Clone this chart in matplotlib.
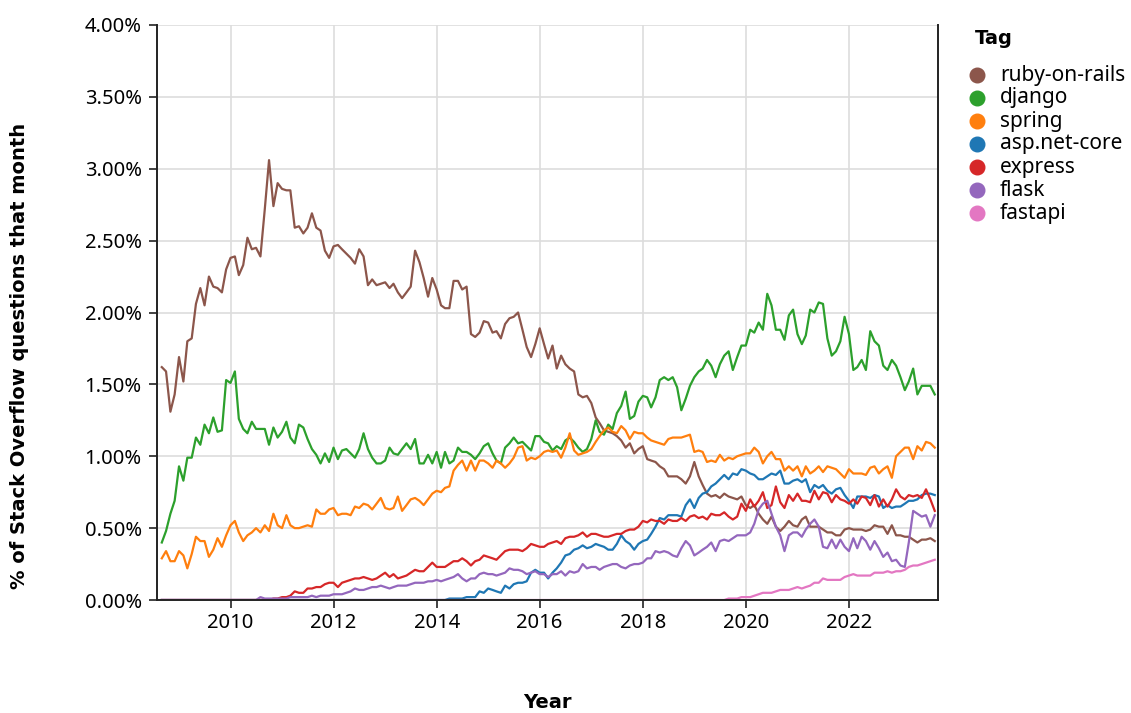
import numpy as np
import pandas as pd
import matplotlib
matplotlib.use("Agg")
import matplotlib.pyplot as plt
import matplotlib.dates as mdates
from matplotlib.lines import Line2D
from matplotlib.ticker import FuncFormatter

plt.rcParams['font.family'] = ['Noto Sans', 'DejaVu Sans']

# monthly share of Stack Overflow questions (%)
START = "2008-09-01"

ruby_on_rails = [
    1.62, 1.59, 1.31, 1.43, 1.69, 1.52, 1.80, 1.82, 2.06, 2.17, 2.05, 2.25, 2.18, 2.17, 2.14, 2.30,
    2.38, 2.39, 2.26, 2.33, 2.52, 2.44, 2.45, 2.39,
    2.72, 3.06, 2.74, 2.90, 2.86, 2.85, 2.85, 2.59, 2.60, 2.55, 2.59, 2.69, 2.59, 2.57, 2.43, 2.38,
    2.46, 2.47, 2.44, 2.41, 2.38, 2.34,
    2.44, 2.39, 2.19, 2.23, 2.19, 2.20, 2.21, 2.17, 2.20, 2.14, 2.10, 2.14, 2.18, 2.43, 2.35, 2.24, 2.11, 2.24,
    2.16, 2.05, 2.03, 2.03, 2.22, 2.22, 2.16, 2.18, 1.85, 1.83, 1.86, 1.94, 1.93, 1.86, 1.87, 1.82,
    1.92, 1.96, 1.97, 2.00, 1.88, 1.76, 1.69, 1.78,
    1.89, 1.78, 1.68, 1.77, 1.61, 1.70, 1.64, 1.61, 1.59, 1.43, 1.41, 1.42, 1.37, 1.27, 1.23, 1.18,
    1.17, 1.16, 1.14, 1.11, 1.06, 1.09, 1.02, 1.05,
    1.07, 0.98, 0.97, 0.96,
    0.93, 0.91, 0.86, 0.86, 0.86, 0.84, 0.81, 0.86, 0.96, 0.86, 0.80, 0.74, 0.72, 0.73, 0.71,
    0.74, 0.72, 0.71, 0.70, 0.72, 0.66, 0.64, 0.66, 0.60, 0.56, 0.53, 0.58, 0.51, 0.48, 0.51,
    0.55, 0.52, 0.51, 0.56, 0.58, 0.51, 0.51, 0.51, 0.49, 0.47, 0.47, 0.45, 0.45, 0.49, 0.50,
    0.49, 0.49, 0.49, 0.48, 0.49, 0.52, 0.51, 0.51, 0.46, 0.52, 0.45, 0.45, 0.44, 0.44, 0.42,
    0.40, 0.42, 0.42, 0.43, 0.41,
]

django = [
    0.40, 0.48, 0.60, 0.69, 0.93, 0.83, 0.99, 0.99, 1.13, 1.08, 1.22, 1.16, 1.27, 1.17, 1.18, 1.53,
    1.51, 1.59, 1.26, 1.19, 1.16, 1.24, 1.19, 1.19, 1.19, 1.08, 1.20, 1.13, 1.17, 1.24, 1.13, 1.09,
    1.22, 1.20, 1.12, 1.05, 1.01, 0.95, 1.02, 0.96,
    1.06, 0.98, 1.04, 1.05, 1.02, 0.99, 1.05, 1.16, 1.05, 0.99, 0.95, 0.95, 0.97, 1.06, 1.02, 1.01,
    1.05, 1.09, 1.05, 1.12, 0.95, 0.95, 1.01, 0.95,
    1.03, 0.92, 1.03, 0.95, 0.97, 1.06, 1.03, 1.03, 1.01, 0.98, 1.02, 1.07, 1.09, 1.02, 0.97, 0.95,
    1.06, 1.09, 1.13, 1.09, 1.10, 1.07, 1.04, 1.14,
    1.14, 1.10, 1.09, 1.04, 1.07, 1.05, 1.11, 1.13, 1.10, 1.06, 1.03, 1.05, 1.12, 1.25, 1.17, 1.15,
    1.22, 1.19, 1.30, 1.35, 1.45, 1.26, 1.28, 1.38,
    1.42, 1.41, 1.34, 1.41, 1.53, 1.55, 1.53, 1.55, 1.48, 1.32, 1.40, 1.49, 1.55, 1.59, 1.61, 1.67,
    1.63, 1.55, 1.64, 1.70, 1.73, 1.60, 1.69, 1.77,
    1.77, 1.88, 1.86, 1.93, 1.88, 2.13, 2.05, 1.88, 1.88, 1.81, 1.98, 2.02, 1.85, 1.78, 1.84,
    2.02, 2.00, 2.07, 2.06, 1.82, 1.70, 1.73, 1.80, 1.97, 1.85, 1.60, 1.62, 1.67, 1.60, 1.87,
    1.80, 1.77, 1.63, 1.60, 1.67, 1.63, 1.55, 1.46, 1.52, 1.61, 1.43, 1.49, 1.49, 1.49, 1.43,
]

spring = [
    0.29, 0.34, 0.27, 0.27, 0.34, 0.31, 0.22, 0.32, 0.44, 0.41, 0.41, 0.30, 0.35, 0.43, 0.37, 0.45,
    0.52, 0.55, 0.47, 0.41, 0.45, 0.47, 0.50, 0.47, 0.52, 0.48, 0.60, 0.52, 0.50, 0.59, 0.52, 0.50,
    0.50, 0.51, 0.52, 0.51, 0.63, 0.60, 0.60, 0.63,
    0.64, 0.59, 0.60, 0.60, 0.59, 0.65, 0.64, 0.67, 0.66, 0.63, 0.67, 0.71, 0.64, 0.63, 0.64, 0.72,
    0.62, 0.66, 0.70, 0.71, 0.69, 0.66, 0.70, 0.74,
    0.76, 0.75, 0.78, 0.79, 0.90, 0.94, 0.97, 0.90, 0.97, 0.90, 0.97, 0.97, 0.95, 0.92, 0.97, 0.95,
    0.92, 0.95, 0.99, 1.06, 1.07, 0.97, 0.99, 0.98,
    1.00, 1.03, 1.04, 1.03, 1.04, 0.99, 1.06, 1.16, 1.04, 1.01, 1.02, 1.03, 1.05, 1.10, 1.14, 1.18,
    1.20, 1.17, 1.16, 1.21, 1.18, 1.12, 1.17, 1.16,
    1.16, 1.13, 1.11, 1.10, 1.09, 1.08, 1.12, 1.13, 1.13, 1.13, 1.14, 1.15, 1.03, 1.04, 1.03, 0.96,
    0.97, 0.96, 1.01, 0.97, 0.99, 0.98, 1.00, 1.01,
    1.02, 1.02, 1.06, 1.03, 0.95, 1.00, 1.03, 0.98, 0.98, 0.90, 0.93, 0.90, 0.93, 0.86, 0.93,
    0.88, 0.90, 0.93, 0.89, 0.93, 0.92, 0.91, 0.88, 0.85, 0.91, 0.88, 0.88, 0.88, 0.87, 0.92,
    0.93, 0.88, 0.91, 0.93, 0.85, 1.00, 1.03, 1.06, 1.06, 0.98, 1.07, 1.04, 1.10, 1.09, 1.06,
]

# the younger tags sit at 0 until their first visible month
asp_net_core_start = "2014-04-01"
asp_net_core = [
    0.01, 0.01, 0.01, 0.01, 0.02, 0.02, 0.02, 0.06, 0.05, 0.08, 0.07, 0.06, 0.05, 0.10, 0.08, 0.11,
    0.12, 0.12, 0.13, 0.19, 0.21, 0.19, 0.19, 0.15,
    0.19, 0.22, 0.26, 0.31, 0.32, 0.35, 0.36, 0.38, 0.36, 0.37, 0.39, 0.38, 0.37, 0.35, 0.35, 0.39,
    0.45, 0.41, 0.39, 0.35, 0.39, 0.41, 0.42, 0.46, 0.51,
    0.57, 0.56, 0.59, 0.59, 0.59, 0.58, 0.66, 0.70, 0.64, 0.71, 0.74, 0.75, 0.79, 0.81, 0.84,
    0.87, 0.84, 0.88, 0.87, 0.91, 0.90, 0.88, 0.87, 0.84, 0.84, 0.86, 0.88, 0.87, 0.90, 0.81,
    0.81, 0.83, 0.84, 0.82, 0.84, 0.75, 0.80, 0.78, 0.80, 0.76, 0.74, 0.77, 0.78, 0.73, 0.69,
    0.64, 0.72, 0.72, 0.72, 0.71, 0.73, 0.72, 0.64, 0.66, 0.64, 0.65, 0.65, 0.67, 0.69, 0.69,
    0.70, 0.73, 0.74, 0.74, 0.73,
]

express_start = "2010-11-01"
express = [
    0.01, 0.01, 0.02, 0.02, 0.03, 0.06, 0.05, 0.05, 0.08, 0.08, 0.09, 0.09, 0.11, 0.12,
    0.12, 0.09, 0.12, 0.13, 0.14, 0.15, 0.15, 0.16, 0.15, 0.14, 0.15, 0.17, 0.19, 0.16, 0.18,
    0.15, 0.16, 0.17, 0.19, 0.21, 0.20, 0.20, 0.23, 0.26, 0.23, 0.23, 0.23, 0.25, 0.27, 0.27,
    0.29, 0.27, 0.24, 0.27, 0.28, 0.31, 0.30, 0.29, 0.28, 0.31, 0.34, 0.35, 0.35, 0.35, 0.34,
    0.36, 0.39, 0.38, 0.37,
    0.37, 0.39, 0.40, 0.41, 0.39, 0.43, 0.44, 0.44, 0.45, 0.47, 0.44, 0.46, 0.46, 0.45, 0.44,
    0.44, 0.45, 0.46, 0.46, 0.48, 0.49, 0.49, 0.51, 0.55, 0.54, 0.56, 0.55,
    0.55, 0.53, 0.56, 0.55, 0.55, 0.57, 0.55, 0.58, 0.59, 0.57, 0.58, 0.56, 0.60, 0.59, 0.59,
    0.61, 0.58, 0.56, 0.58, 0.67, 0.62, 0.70, 0.65, 0.69, 0.75, 0.64, 0.66, 0.79, 0.68, 0.64,
    0.73, 0.69, 0.74, 0.69, 0.69, 0.68, 0.76, 0.70, 0.75, 0.74, 0.68, 0.73, 0.70, 0.69, 0.67,
    0.70, 0.67, 0.72, 0.71, 0.66, 0.73, 0.65, 0.70, 0.65, 0.70, 0.77, 0.72, 0.70, 0.73, 0.72,
    0.73, 0.71, 0.77, 0.70, 0.62,
]

flask_start = "2010-08-01"
flask = [
    0.02, 0.01, 0.01, 0.01, 0.01, 0.01, 0.01, 0.02, 0.02, 0.02, 0.02, 0.02, 0.03, 0.02, 0.03,
    0.03, 0.03, 0.04, 0.04, 0.04, 0.05, 0.06, 0.08, 0.07, 0.07, 0.08, 0.09, 0.09, 0.10, 0.09,
    0.08, 0.09, 0.10, 0.10, 0.10, 0.11, 0.12,
    0.12, 0.12, 0.13, 0.13, 0.14, 0.13, 0.14, 0.15, 0.16, 0.18, 0.15, 0.13, 0.15, 0.15, 0.18,
    0.19, 0.18, 0.18, 0.17, 0.18, 0.19, 0.22, 0.21, 0.21, 0.20, 0.18, 0.19, 0.20, 0.18, 0.18,
    0.16, 0.18, 0.18, 0.20, 0.17, 0.20, 0.19, 0.20, 0.25, 0.22, 0.23, 0.23, 0.21, 0.23, 0.24,
    0.25, 0.25, 0.23, 0.22, 0.24, 0.25, 0.25, 0.26, 0.29, 0.29, 0.34,
    0.33, 0.34, 0.33, 0.31, 0.30, 0.36, 0.41, 0.38, 0.31, 0.33, 0.35, 0.37, 0.40, 0.34, 0.41,
    0.42, 0.41, 0.43, 0.45, 0.45, 0.45, 0.47, 0.53, 0.63, 0.67, 0.69, 0.60, 0.51, 0.45, 0.34,
    0.45, 0.47, 0.47, 0.44, 0.49, 0.53, 0.56, 0.51, 0.37, 0.36, 0.42, 0.36, 0.42, 0.37, 0.34,
    0.43, 0.36, 0.44, 0.41, 0.35, 0.41, 0.36, 0.30, 0.33, 0.27, 0.28, 0.24, 0.23, 0.40, 0.62,
    0.60, 0.58, 0.59, 0.51, 0.59,
]

fastapi_start = "2019-09-01"
fastapi = [
    0.01, 0.01, 0.01, 0.02, 0.02, 0.02, 0.03, 0.04, 0.05, 0.05, 0.05, 0.06, 0.07, 0.07, 0.07,
    0.08, 0.09, 0.08, 0.09, 0.10, 0.12, 0.12, 0.15, 0.14, 0.14, 0.14, 0.14, 0.16, 0.17, 0.18,
    0.17, 0.17, 0.17, 0.17, 0.19, 0.19, 0.19, 0.20, 0.19, 0.20, 0.20, 0.21, 0.23, 0.24, 0.24,
    0.25, 0.26, 0.27, 0.28,
]

tags = ["ruby-on-rails", "django", "spring", "asp.net-core", "express", "flask", "fastapi"]
colors = ["#8c564b", "#2ca02c", "#ff7f0e", "#1f77b4", "#d62728", "#9467bd", "#e377c2"]


def full_series(values, start=START):
    # zero-filled months before the tag shows up
    lead = len(pd.date_range(START, start, freq="MS")) - 1
    vals = [0.0] * lead + list(values)
    dates = pd.date_range(START, periods=len(vals), freq="MS")
    return dates, vals


series = [
    full_series(ruby_on_rails),
    full_series(django),
    full_series(spring),
    full_series(asp_net_core, asp_net_core_start),
    full_series(express, express_start),
    full_series(flask, flask_start),
    full_series(fastapi, fastapi_start),
]

W, H = 1131, 713
fig = plt.figure(figsize=(W / 100, H / 100), dpi=100)
ax = fig.add_axes([157 / W, 1 - 600 / H, 781 / W, 575 / H])

for (dates, vals), tag, c in zip(series, tags, colors):
    ax.plot(dates, vals, color=c, lw=1.6, label=tag)

ax.set_ylim(0, 4)
ax.set_yticks(np.arange(0, 4.01, 0.5))
ax.yaxis.set_major_formatter(FuncFormatter(lambda v, p: f"{v:.2f}%"))
ax.set_xlim(pd.Timestamp("2008-07-29"), pd.Timestamp("2023-09-24"))
ax.set_xticks([pd.Timestamp(f"{y}-01-01") for y in range(2010, 2023, 2)])
ax.xaxis.set_major_formatter(mdates.DateFormatter("%Y"))

ax.grid(True, color="#dddddd", lw=1.2)
ax.set_axisbelow(True)
for side in ["left", "bottom", "right"]:
    ax.spines[side].set_color("#222222")
    ax.spines[side].set_linewidth(1.4)
ax.spines["top"].set_visible(False)
ax.tick_params(axis="both", length=6, width=1.2, color="#222222", labelsize=14.5)
ax.tick_params(axis="y", pad=5)
ax.tick_params(axis="x", pad=3)

# axis titles
bold = dict(family="DejaVu Sans", fontweight="bold", fontsize=14)
fig.text(547 / W, 1 - 703 / H, "Year", ha="center", va="center", **bold)
fig.text(20 / W, 1 - 356 / H, "% of Stack Overflow questions that month",
         rotation=90, ha="center", va="center", **bold)

# legend
fig.text(975 / W, 1 - 38 / H, "Tag", ha="left", va="center", **bold)
for i, (tag, c) in enumerate(zip(tags, colors)):
    y = 1 - (75 + 23 * i) / H
    fig.add_artist(Line2D([977 / W], [y], transform=fig.transFigure, ls="none",
                          marker="o", markersize=10.5, color=c))
    fig.text(1000 / W, y, tag, ha="left", va="center", fontsize=15)

fig.savefig("out.png", dpi=100)
